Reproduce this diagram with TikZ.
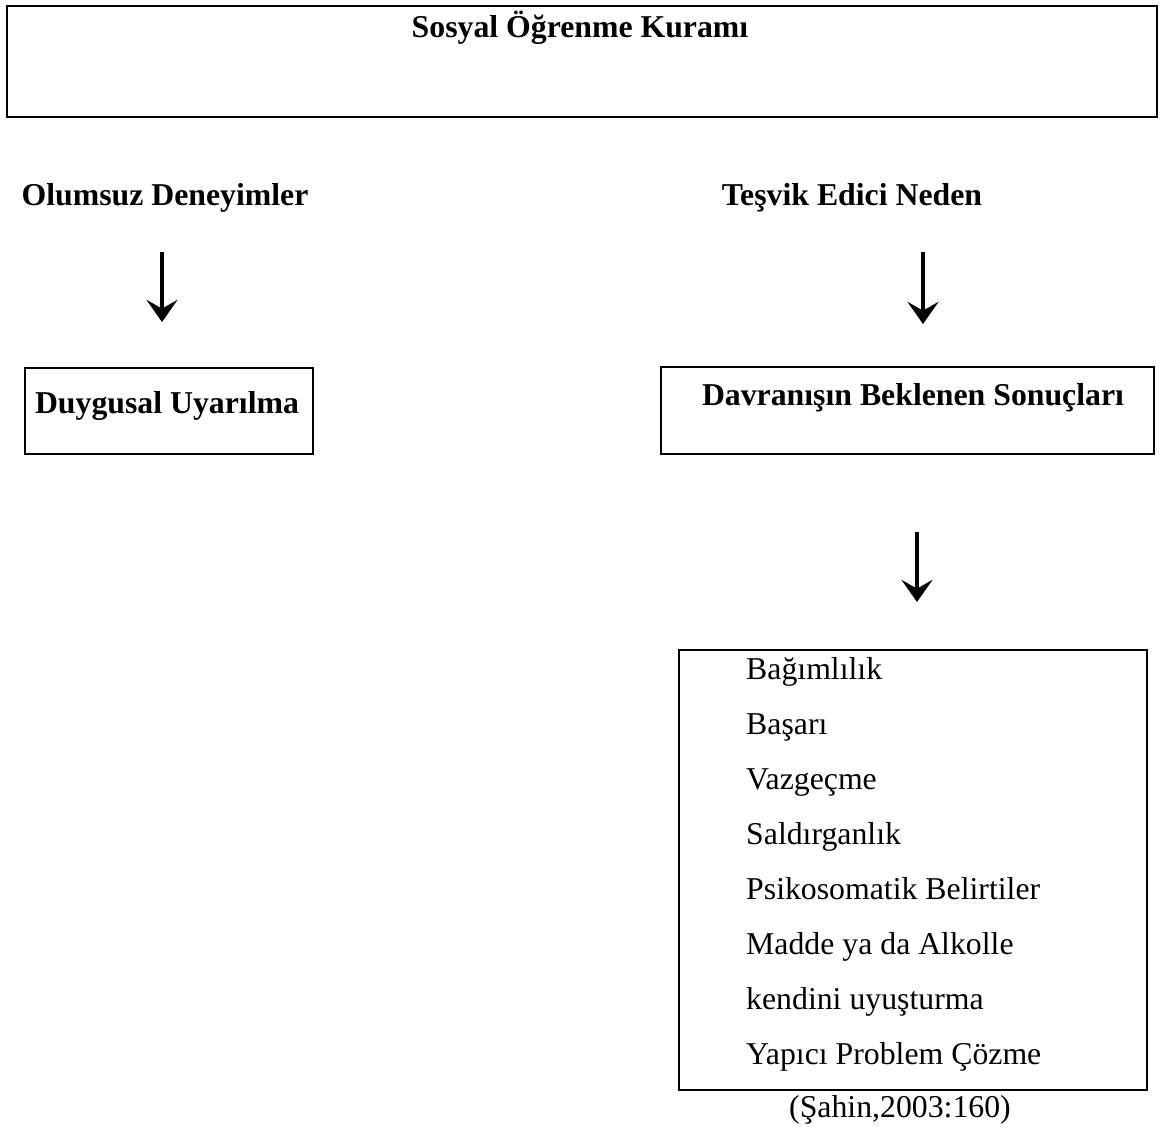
\documentclass[tikz,border=0pt]{standalone}
\usepackage{fontspec}
\setmainfont{Liberation Serif}
\usetikzlibrary{arrows.meta}

\begin{document}
\begin{tikzpicture}[x=0.45pt, y=-0.45pt, line width=1.1pt,
  baslik/.style={font=\fontsize{14.3}{17}\selectfont\bfseries, anchor=base, inner sep=0pt},
  madde/.style={font=\fontsize{14.3}{17}\selectfont, anchor=base west, inner sep=0pt},
  ok/.style={line width=1.4pt, -{Stealth[length=10pt, width=14pt, inset=4pt]}}]
\useasboundingbox (0,0) rectangle (1160,1131);

\draw (7,6) rectangle (1157,117);
\draw (25,368) rectangle (313,454);
\draw (661,367) rectangle (1154,454);
\draw (679,650) rectangle (1147,1090);

\node[baslik] (kuram) at (580,37) {Sosyal Öğrenme Kuramı};
\node[baslik] (olumsuz) at (165,205) {Olumsuz Deneyimler};
\node[baslik] (tesvik) at (852,205) {Teşvik Edici Neden};
\node[baslik] (duygu) at (167,413) {Duygusal Uyarılma};
\node[baslik] (sonuc) at (913,405) {Davranışın Beklenen Sonuçları};

\coordinate (a1) at (162,252);
\coordinate (a2) at (162,322);
\coordinate (b1) at (923,252);
\coordinate (b2) at (923,324);
\coordinate (c1) at (917,532);
\coordinate (c2) at (917,602);

\draw[ok] (a1) -- (a2);
\draw[ok] (b1) -- (b2);
\draw[ok] (c1) -- (c2);

\foreach \metin [count=\i] in {Bağımlılık, Başarı, Vazgeçme, Saldırganlık,
  Psikosomatik Belirtiler, Madde ya da Alkolle, kendini uyuşturma,
  Yapıcı Problem Çözme}
  \node[madde] (m\i) at (745, {679+55*(\i-1)}) {\metin};

\node[baslik, font=\fontsize{14.3}{17}\selectfont] (kaynak) at (900,1117) {(Şahin,2003:160)};
\end{tikzpicture}
\end{document}
